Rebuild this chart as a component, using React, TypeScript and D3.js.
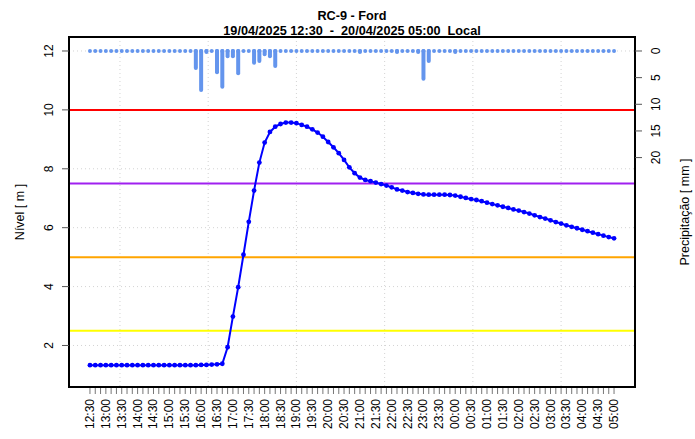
import * as d3 from 'd3';
import React from 'react';

// series start and sampling step (local clock time)
const startTime = '2025-04-19T12:30:00Z';
const stepMinutes = 10;

// level [m], one value every 10 minutes
const nivel = [
  1.33, 1.33, 1.33, 1.33, 1.33, 1.33, 1.33, 1.33, 1.33, 1.33,
  1.33, 1.33, 1.33, 1.33, 1.33, 1.33, 1.33, 1.33, 1.33, 1.33,
  1.33, 1.34, 1.34, 1.35, 1.36, 1.38, 1.94, 2.98, 3.98, 5.08,
  6.20, 7.26, 8.21, 8.89, 9.25, 9.43, 9.52, 9.57, 9.57, 9.55,
  9.49, 9.43, 9.34, 9.23, 9.09, 8.91, 8.73, 8.53, 8.30, 8.05,
  7.85, 7.70, 7.62, 7.58, 7.53, 7.48, 7.43, 7.37, 7.30, 7.26,
  7.21, 7.18, 7.15, 7.13, 7.12, 7.12, 7.12, 7.12, 7.11, 7.09,
  7.05, 7.01, 6.97, 6.94, 6.90, 6.85, 6.80, 6.76, 6.71, 6.67,
  6.62, 6.58, 6.53, 6.48, 6.42, 6.36, 6.31, 6.25, 6.19, 6.14,
  6.08, 6.03, 5.98, 5.93, 5.88, 5.83, 5.78, 5.73, 5.68, 5.64,
];

// precipitation [mm] per 10 minutes
const precipitacao = [
  0, 0, 0, 0, 0, 0, 0, 0, 0, 0,
  0, 0, 0, 0, 0, 0, 0, 0, 0, 0,
  3.2, 7.3, 0.2, 0, 4.0, 6.7, 1.0, 1.0, 4.2, 0,
  0, 2.2, 1.9, 0.6, 1.0, 2.8, 0, 0, 0, 0,
  0, 0, 0, 0, 0, 0, 0, 0, 0, 0,
  0, 0.2, 0, 0, 0, 0, 0, 0, 0.2, 0,
  0, 0, 0.2, 5.2, 1.9, 0, 0, 0, 0, 0.2,
  0, 0, 0, 0, 0, 0, 0, 0, 0, 0,
  0, 0, 0, 0, 0, 0, 0, 0, 0, 0,
  0, 0, 0, 0, 0, 0, 0, 0, 0, 0,
];

const tickLabels = [
  '12:30', '13:00', '13:30', '14:00', '14:30', '15:00', '15:30', '16:00', '16:30',
  '17:00', '17:30', '18:00', '18:30', '19:00', '19:30', '20:00', '20:30', '21:00',
  '21:30', '22:00', '22:30', '23:00', '23:30', '00:00', '00:30', '01:00', '01:30',
  '02:00', '02:30', '03:00', '03:30', '04:00', '04:30', '05:00',
];

const gridTimes = [
  '2025-04-19T13:26:40Z', '2025-04-19T16:13:20Z', '2025-04-19T19:00:00Z',
  '2025-04-19T21:46:40Z', '2025-04-20T00:33:20Z', '2025-04-20T03:20:00Z',
];

const nivelTicks = [2, 4, 6, 8, 10, 12];
const precipTicks = [0, 5, 10, 15, 20];
const limiares = [10, 7.5, 5, 2.5];

const limiarCores = ['#ff0000', '#a020f0', '#ffa500', '#ffff00'];
const font = '"Liberation Sans", Arial, Helvetica, sans-serif';

export default function App() {
  const width = 695;
  const height = 439;
  const box = { left: 69, right: 635, top: 37, bottom: 387 };

  const t0 = new Date(startTime).getTime();
  const min = 60 * 1000;
  const times = nivel.map((_, i) => new Date(t0 + i * stepMinutes * min));
  const tEnd = times[times.length - 1].getTime();
  const pad = (tEnd - t0) * 0.04;

  const x = d3.scaleTime()
    .domain([new Date(t0 - pad), new Date(tEnd + pad)])
    .range([box.left, box.right]);

  const y = d3.scaleLinear().domain([0.59, 12.475]).range([box.bottom, box.top]);
  // precipitation axis hangs from the top, 0 mm aligned with 12 m
  const yp = d3.scaleLinear().domain([0, 20]).range([y(12), y(12) + 20 * 5.33]);

  const line = d3.line<number>()
    .x((_, i) => x(times[i]))
    .y((d) => y(d));

  const labelTimes = tickLabels.map((_, i) => new Date(t0 + i * 30 * min));
  const cx = (box.left + box.right) / 2;
  const cy = (box.top + box.bottom) / 2;

  return (
    <svg
      width={width}
      height={height}
      style={{ position: 'absolute', left: 0, top: 0, background: '#fff' }}
      fontFamily={font}
    >
      <rect width={width} height={height} fill="#fff" />

      {/* grid */}
      {nivelTicks.map((v) => (
        <line key={'gy' + v} x1={box.left} x2={box.right} y1={y(v)} y2={y(v)}
          stroke="#d3d3d3" strokeDasharray="1,3" />
      ))}
      {gridTimes.map((g) => (
        <line key={'gx' + g} x1={x(new Date(g))} x2={x(new Date(g))} y1={box.top} y2={box.bottom}
          stroke="#d3d3d3" strokeDasharray="1,3" />
      ))}

      {/* precipitation */}
      {precipitacao.map((p, i) => p > 0 ? (
        <line key={'pb' + i} x1={x(times[i])} x2={x(times[i])} y1={yp(0)} y2={yp(p)}
          stroke="#6495ed" strokeWidth={4} strokeLinecap="round" />
      ) : null)}
      {precipitacao.map((_, i) => (
        <circle key={'pd' + i} cx={x(times[i])} cy={yp(0)} r={2} fill="#6495ed" />
      ))}

      {/* thresholds */}
      {limiares.map((v, i) => (
        <line key={'l' + v} x1={box.left} x2={box.right} y1={y(v)} y2={y(v)}
          stroke={limiarCores[i]} strokeWidth={2} />
      ))}

      {/* level */}
      <path d={line(nivel) || ''} fill="none" stroke="#0000ff" strokeWidth={2} />
      {nivel.map((v, i) => (
        <circle key={'n' + i} cx={x(times[i])} cy={y(v)} r={2.4} fill="#0000ff" />
      ))}

      <rect x={box.left} y={box.top} width={box.right - box.left} height={box.bottom - box.top}
        fill="none" stroke="#000" strokeWidth={2} />

      {/* left axis */}
      {nivelTicks.map((v) => (
        <g key={'ly' + v}>
          <line x1={box.left - 7} x2={box.left} y1={y(v)} y2={y(v)} stroke="#555" />
          <text transform={`translate(49,${y(v)}) rotate(-90)`} textAnchor="middle"
            dominantBaseline="central" fontSize={12}>{v}</text>
        </g>
      ))}
      <text transform={`translate(20,${cy}) rotate(-90)`} textAnchor="middle"
        dominantBaseline="central" fontSize={12.5}>Nível [ m ]</text>

      {/* right axis */}
      {precipTicks.map((v) => (
        <g key={'ry' + v}>
          <line x1={box.right} x2={box.right + 7} y1={yp(v)} y2={yp(v)} stroke="#555" />
          <text transform={`translate(656,${yp(v)}) rotate(-90)`} textAnchor="middle"
            dominantBaseline="central" fontSize={12}>{v}</text>
        </g>
      ))}
      <text transform={`translate(685,${cy}) rotate(-90)`} textAnchor="middle"
        dominantBaseline="central" fontSize={12.5}>Precipitação [ mm ]</text>

      {/* time axis */}
      {times.map((t, i) => (
        <line key={'tx' + i} x1={x(t)} x2={x(t)} y1={box.bottom + 1} y2={box.bottom + 7} stroke="#777" />
      ))}
      {tickLabels.map((lab, i) => (
        <text key={'lx' + i} transform={`translate(${x(labelTimes[i])},399) rotate(-90)`}
          textAnchor="end" dominantBaseline="central" fontSize={12}>{lab}</text>
      ))}

      {/* title */}
      <text x={cx} y={19.5} textAnchor="middle" fontWeight="bold" fontSize={12.7}>RC-9 - Ford</text>
      <text x={cx} y={34.5} textAnchor="middle" fontWeight="bold" fontSize={12.7}
        style={{ whiteSpace: 'pre' }}>{'19/04/2025 12:30  -  20/04/2025 05:00  Local'}</text>
    </svg>
  );
}
